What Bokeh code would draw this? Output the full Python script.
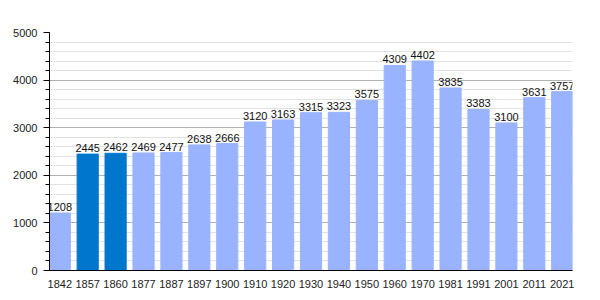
from bokeh.plotting import figure
from bokeh.models import ColumnDataSource, FactorRange, Range1d, FixedTicker
from bokeh.core.properties import value
from bokeh.embed import file_html
from bokeh.resources import INLINE

years = ["1842", "1857", "1860", "1877", "1887", "1897", "1900", "1910", "1920", "1930",
         "1940", "1950", "1960", "1970", "1981", "1991", "2001", "2011", "2021"]
population = [1208, 2445, 2462, 2469, 2477, 2638, 2666, 3120, 3163, 3315,
              3323, 3575, 4309, 4402, 3835, 3383, 3100, 3631, 3757]
highlight = ["1857", "1860"]

BAR_W = 0.758
EXTRA = 0.055  # small margin so edge labels are not clipped

colors = ["#0077cc" if y in highlight else "#99b3ff" for y in years]
labels = [str(v) for v in population]
src = ColumnDataSource(dict(x=years, y=population, c=colors, t=labels))

xr = FactorRange(*years, range_padding=-(1 - BAR_W) + 2 * EXTRA,
                 range_padding_units="absolute", factor_padding=0)
p = figure(width=600, height=300, x_range=xr,
           y_range=Range1d(0, 5000), output_backend="svg", toolbar_location=None,
           min_border_left=49, min_border_right=28, min_border_top=32, min_border_bottom=30)
p.outline_line_color = None
p.background_fill_color = "white"

p.vbar(x="x", top="y", width=BAR_W, color="c", source=src)
p.text(x="x", y="y", text="t", source=src, text_align="center", text_baseline="bottom",
       y_offset=-2, text_font_size="11px", text_color="#111111",
       text_font=value("Liberation Sans"))

p.yaxis.ticker = FixedTicker(ticks=[0, 1000, 2000, 3000, 4000, 5000],
                             minor_ticks=list(range(0, 5001, 200)))
p.ygrid.grid_line_color = "#b0b0b0"
p.ygrid.minor_grid_line_color = "#e2e2e2"
p.xgrid.grid_line_color = None

p.yaxis.axis_line_color = "black"
p.yaxis.major_tick_out = 6
p.yaxis.major_tick_in = 0
p.yaxis.minor_tick_out = 4
p.yaxis.minor_tick_in = 0
p.yaxis.major_label_text_font = "Liberation Sans"
p.yaxis.major_label_text_font_size = "11px"
p.yaxis.major_label_text_color = "#222222"
p.yaxis.major_label_standoff = 6

p.xaxis.axis_line_color = "black"
p.xaxis.major_tick_line_color = None
p.xaxis.minor_tick_line_color = None
p.xaxis.major_label_text_font = "Liberation Sans"
p.xaxis.major_label_text_font_size = "11px"
p.xaxis.major_label_text_color = "#222222"
p.xaxis.major_label_standoff = 3

open("out.html", "w").write(file_html(p, INLINE))
